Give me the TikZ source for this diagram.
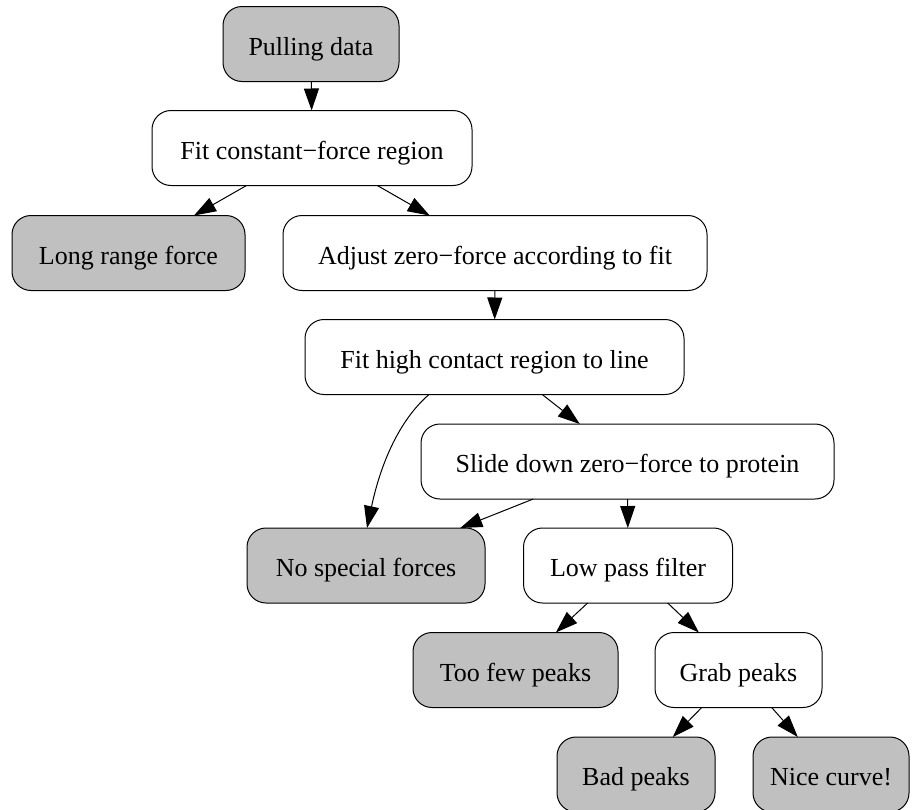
\documentclass[tikz,border=0pt]{standalone}
\usepackage{fontspec}
\setmainfont{Liberation Serif}
\usetikzlibrary{arrows.meta}
\definecolor{termgray}{RGB}{192,192,192}
\begin{document}
\begin{tikzpicture}[x=1pt,y=-1pt,
  box/.style={draw=black, line width=1pt, rounded corners=19pt,
    minimum height=75pt, inner sep=0pt, outer sep=0pt,
    text height=22pt, text depth=0pt,
    font=\fontsize{26}{30}\selectfont, fill=white},
  term/.style={box, fill=termgray},
  flow/.style={draw=black, line width=1pt,
    -{Triangle[length=22pt,width=15pt]}}]
\useasboundingbox (0,0) rectangle (913,809);

% processing steps and outcomes
\node[term, minimum width=176pt] (pull)  at (311,44)    {Pulling data};
\node[box,  minimum width=320pt] (fitc)  at (312,148)   {Fit constant−force region};
\node[term, minimum width=233pt] (lrf)   at (128.5,253) {Long range force};
\node[box,  minimum width=424pt] (adj)   at (495,253)   {Adjust zero−force according to fit};
\node[box,  minimum width=379pt] (fith)  at (494.5,357) {Fit high contact region to line};
\node[box,  minimum width=413pt] (slide) at (627.5,461.5) {Slide down zero−force to protein};
\node[term, minimum width=238pt] (nsf)   at (366,565.5) {No special forces};
\node[box,  minimum width=209pt] (lpf)   at (628,565.5) {Low pass filter};
\node[term, minimum width=205pt] (tfp)   at (515.5,670) {Too few peaks};
\node[box,  minimum width=167pt] (grab)  at (738.5,670) {Grab peaks};
\node[term, minimum width=158pt] (bad)   at (636,774.5) {Bad peaks};
\node[term, minimum width=156pt] (nice)  at (831,774.5) {Nice curve!};

% connectors
\draw[flow] (pull) -- (fitc);
\draw[flow] (fitc) -- (lrf);
\draw[flow] (fitc) -- (adj);
\draw[flow] (adj) -- (fith);
\draw[flow] ([xshift=-65.5pt]fith.south) .. controls +(-29,25) and +(14,-66) .. ([xshift=1pt]nsf.north);
\draw[flow] (fith) -- (slide);
\draw[flow] (slide) -- (nsf);
\draw[flow] (slide) -- (lpf);
\draw[flow] (lpf) -- (tfp);
\draw[flow] (lpf) -- (grab);
\draw[flow] (grab) -- (bad);
\draw[flow] (grab) -- (nice);
\end{tikzpicture}
\end{document}
